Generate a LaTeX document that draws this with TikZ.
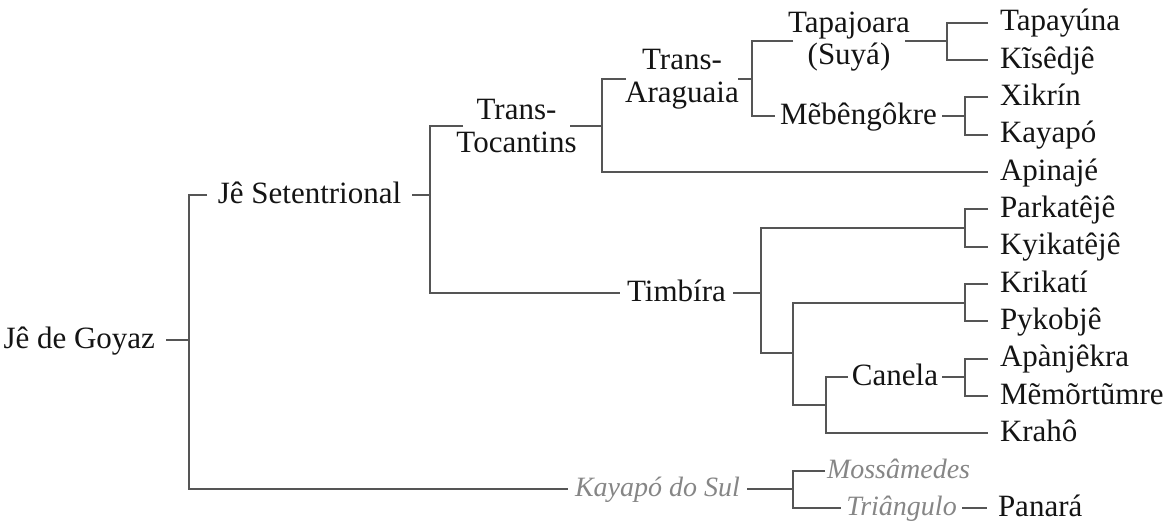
\documentclass[tikz,border=0pt]{standalone}
\usepackage{fontspec}
\setmainfont{Liberation Serif}
\definecolor{edge}{HTML}{555555}
\definecolor{faded}{HTML}{868686}
\definecolor{ink}{HTML}{141414}
\begin{document}
\begin{tikzpicture}[x=0.5pt,y=-0.5pt,
  every node/.style={outer sep=0pt, text=ink},
  lbl/.style={font=\fontsize{15.5pt}{16.3pt}\selectfont, inner ysep=0pt,
              text height=10.8pt, text depth=2.5pt},
  mid/.style={lbl, inner xsep=0pt},
  pair/.style={font=\fontsize{15.5pt}{16.3pt}\selectfont, align=center,
               inner ysep=0pt, inner xsep=-6pt},
  leaf/.style={lbl, anchor=west, inner xsep=6pt},
  extinct/.style={font=\fontsize{14pt}{16pt}\selectfont\itshape, text=faded,
                  inner ysep=0pt, text height=10.5pt, text depth=2.5pt},
  branch/.style={draw=edge, line width=1pt}]
\useasboundingbox (0,0) rectangle (1173,522);

% inner groups
\node[lbl, anchor=east, inner xsep=5.5pt] (goyaz) at (166,340) {Jê de Goyaz};
\node[mid, minimum width=102.5pt] (setent) at (309.5,195) {Jê Setentrional};
\node[pair, minimum width=53.5pt] (tt) at (516.5,126) {Trans-\\Tocantins};
\node[pair, minimum width=56pt] (ta) at (682,79) {Trans-\\Araguaia};
\node[pair, minimum width=56pt] (tapaj) at (849,41.4) {Tapajoara\\(Suyá)};
\node[mid, minimum width=83.5pt] (meb) at (858.5,116) {Mẽbêngôkre};
\node[mid, minimum width=56.5pt] (timb) at (676.5,293) {Timbíra};
\node[mid, minimum width=47pt] (canela) at (895,377.3) {Canela};
\node[extinct, inner xsep=0pt, minimum width=89.5pt] (kaysul) at (657.5,489) {Kayapó do Sul};
\node[extinct, anchor=west, inner xsep=1pt] (moss) at (825,470.7) {Mossâmedes};
\node[extinct, inner xsep=0pt, minimum width=60.5pt] (tri) at (901.5,508) {Triângulo};

% languages
\node[leaf] (tapayuna)   at (988,22.7)  {Tapayúna};
\node[leaf] (kisedje)    at (988,60.0)  {Kĩsêdjê};
\node[leaf] (xikrin)     at (988,97.4)  {Xikrín};
\node[leaf] (kayapo)     at (988,134.7) {Kayapó};
\node[leaf] (apinaje)    at (988,172.0) {Apinajé};
\node[leaf] (parkateje)  at (988,209.4) {Parkatêjê};
\node[leaf] (kyikateje)  at (988,246.7) {Kyikatêjê};
\node[leaf] (krikati)    at (988,284.0) {Krikatí};
\node[leaf] (pykobje)    at (988,321.3) {Pykobjê};
\node[leaf] (apanjekra)  at (988,358.7) {Apànjêkra};
\node[leaf] (memortumre) at (988,396.0) {Mẽmõrtũmre};
\node[leaf] (kraho)      at (988,433.3) {Krahô};
\node[leaf, inner xsep=5.5pt] (panara) at (987,508) {Panará};

% branching points
\coordinate (j0)  at (189,340);
\coordinate (j1)  at (430,195);
\coordinate (j2)  at (602,126);
\coordinate (j3)  at (752,79);
\coordinate (j4)  at (947,41.4);
\coordinate (j5)  at (965,116);
\coordinate (j6)  at (761,293);
\coordinate (j7)  at (965,228);
\coordinate (j8)  at (793,353.5);
\coordinate (j9)  at (965,302.7);
\coordinate (j10) at (826,405);
\coordinate (j11) at (965,377.3);
\coordinate (j12) at (793,489);

% branches
\draw[branch] (goyaz.east) -- (j0);
\draw[branch] (setent.west) -| (j0) |- (kaysul.west);
\draw[branch] (setent.east) -- (j1);
\draw[branch] (tt.west) -| (j1) |- (timb.west);
\draw[branch] (tt.east) -- (j2);
\draw[branch] (ta.west) -| (j2) |- (apinaje.west);
\draw[branch] (ta.east) -- (j3);
\draw[branch] (tapaj.west) -| (j3) |- (meb.west);
\draw[branch] (tapaj.east) -- (j4);
\draw[branch] (tapayuna.west) -| (j4) |- (kisedje.west);
\draw[branch] (meb.east) -- (j5);
\draw[branch] (xikrin.west) -| (j5) |- (kayapo.west);
\draw[branch] (timb.east) -- (j6);
\draw[branch] (j7) -| (j6) |- (j8);
\draw[branch] (parkateje.west) -| (j7) |- (kyikateje.west);
\draw[branch] (j9) -| (j8) |- (j10);
\draw[branch] (krikati.west) -| (j9) |- (pykobje.west);
\draw[branch] (canela.west) -| (j10) |- (kraho.west);
\draw[branch] (canela.east) -- (j11);
\draw[branch] (apanjekra.west) -| (j11) |- (memortumre.west);
\draw[branch] (kaysul.east) -- (j12);
\draw[branch] (moss.west) -| (j12) |- (tri.west);
\draw[branch] (tri.east) -- (panara.west);
\end{tikzpicture}
\end{document}
